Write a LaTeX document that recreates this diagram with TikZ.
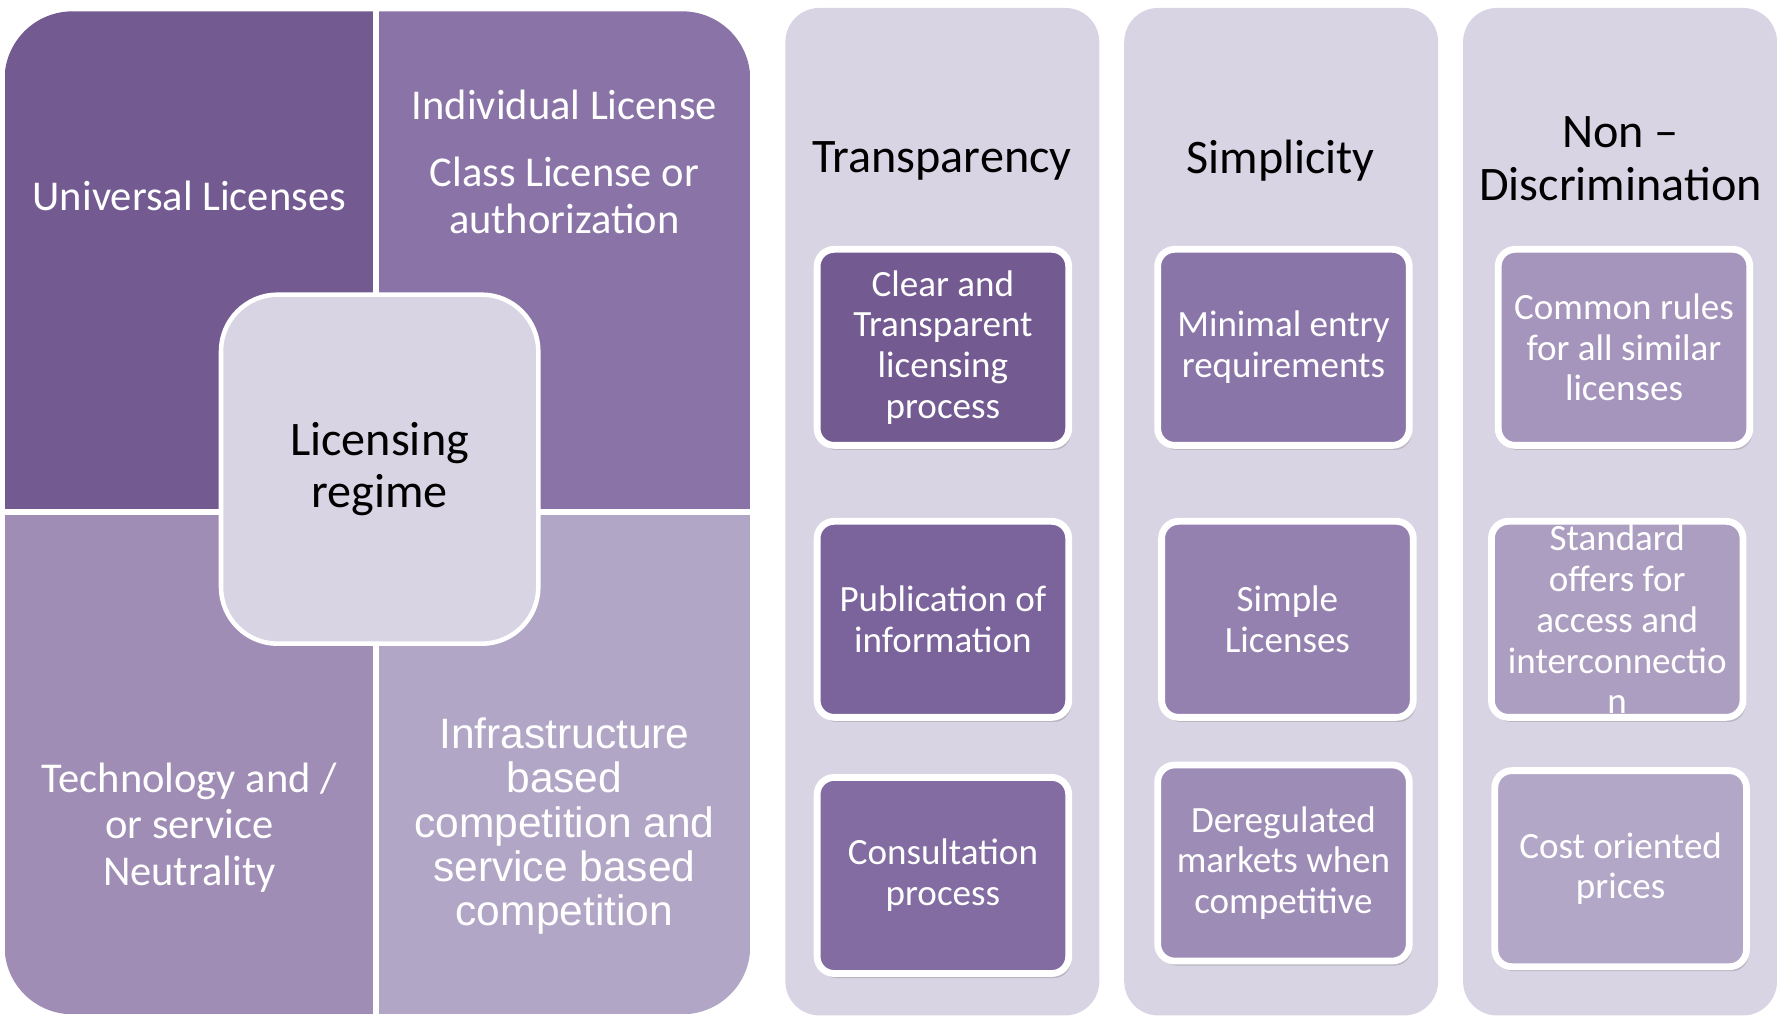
\documentclass[tikz,border=0pt]{standalone}
\usepackage{fontspec}
\setmainfont{Carlito}
\newfontfamily\arialf{Liberation Sans}
\usetikzlibrary{shadows}
\definecolor{qTL}{RGB}{115,91,146}
\definecolor{qTR}{RGB}{138,115,166}
\definecolor{qBL}{RGB}{159,141,181}
\definecolor{qBR}{RGB}{178,166,198}
\definecolor{lightbg}{RGB}{216,212,228}
\definecolor{bA1}{RGB}{115,91,146}
\definecolor{bA2}{RGB}{123,99,155}
\definecolor{bA3}{RGB}{130,108,162}
\definecolor{bB1}{RGB}{138,117,168}
\definecolor{bB2}{RGB}{148,129,175}
\definecolor{bB3}{RGB}{157,140,182}
\definecolor{bC1}{RGB}{165,149,188}
\definecolor{bC2}{RGB}{172,158,192}
\definecolor{bC3}{RGB}{178,167,198}
\begin{document}
\begin{tikzpicture}[x=1pt,y=-1pt,
  colbg/.style={rounded corners=30, fill=lightbg, minimum width=277, minimum height=889, inner sep=0},
  inbox/.style={rounded corners=15, draw=white, line width=6, minimum width=222, minimum height=173,
    inner sep=0, align=center, text=white, font=\fontsize{32.7}{36}\selectfont,
    drop shadow={opacity=0.35, shadow xshift=2pt, shadow yshift=-4pt}},
  header/.style={align=center, text=black, font=\fontsize{42.5}{46}\selectfont},
  quadtext/.style={align=center, text=white, font=\fontsize{37.5}{41}\selectfont}]
\useasboundingbox (0,0) rectangle (1568,896);
% left panel
\begin{scope}
\clip[rounded corners=60] (4,10) rectangle (662,895);
\fill[qTL] (4,10) rectangle (332,451);
\fill[qTR] (332,10) rectangle (662,451);
\fill[qBL] (4,451) rectangle (332,895);
\fill[qBR] (332,451) rectangle (662,895);
\end{scope}
\draw[white, line width=5] (332,10) -- (332,895);
\draw[white, line width=5] (4,452) -- (662,452);
\node[quadtext] (univ) at (167,173) {Universal Licenses};
\node[quadtext] (indiv) at (498,143) {Individual License\\[18pt]Class License or\\authorization};
\node[quadtext] (tech) at (167,730) {Technology and /\\or service\\Neutrality};
\node[align=center, text=white, font=\arialf\fontsize{37.5}{39}\selectfont] (infra) at (498,729)
  {Infrastructure\\based\\competition and\\service based\\competition};
\node[rounded corners=50, fill=lightbg, draw=white, line width=4, minimum width=280, minimum height=308,
  inner sep=0, align=center, font=\fontsize{42.5}{46}\selectfont] (regime) at (335,414) {Licensing\\regime};
% columns
\node[colbg] (col1) at (831.5,451.5) {};
\node[colbg] (col2) at (1130.5,451.5) {};
\node[colbg] (col3) at (1429.5,451.5) {};
\node[header] (h1) at (831,142) {Transparency};
\node[header] (h2) at (1130,142) {Simplicity};
\node[header] (h3) at (1430,140) {Non –\\Discrimination};
% boxes
\node[inbox, fill=bA1] (a1) at (832,306.5) {Clear and\\Transparent\\licensing\\process};
\node[inbox, fill=bA2] (a2) at (832,546.5) {Publication of\\information};
\node[inbox, fill=bA3] (a3) at (832,772.5) {Consultation\\process};
\node[inbox, fill=bB1] (b1) at (1132.5,306.5) {Minimal entry\\requirements};
\node[inbox, fill=bB2] (b2) at (1136,546.5) {Simple\\Licenses};
\node[inbox, fill=bB3] (b3) at (1132.5,761.5) {Deregulated\\markets when\\competitive};
\node[inbox, fill=bC1] (c1) at (1433,306.5) {Common rules\\for all similar\\licenses};
\node[inbox, fill=bC2] (c2) at (1427,546.5) {Standard\\offers for\\access and\\interconnectio\\n};
\node[inbox, fill=bC3] (c3) at (1430,766.5) {Cost oriented\\prices};
\end{tikzpicture}
\end{document}
